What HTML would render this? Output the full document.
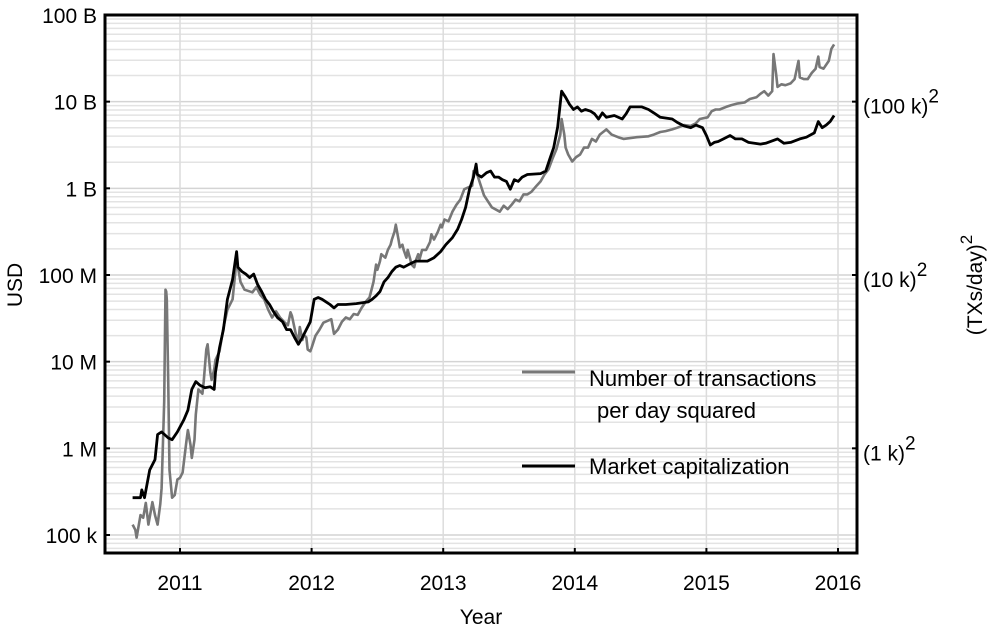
<!DOCTYPE html>
<html><head><meta charset="utf-8"><style>
html,body{margin:0;padding:0;background:#fff;}
svg{display:block;font-family:"Liberation Sans",Arial,sans-serif;}
</style></head><body>
<svg id="chart" width="992" height="635" viewBox="0 0 992 635" xmlns="http://www.w3.org/2000/svg">
<g id="grid"></g>
<g id="series"></g>
<rect x="105" y="15" width="752" height="538" fill="none" stroke="#000" stroke-width="3"/>
<g id="axes"></g>
<text transform="translate(22,285) rotate(-90)" text-anchor="middle" font-size="21">USD</text>
<text transform="translate(982,285) rotate(-90)" text-anchor="middle" font-size="21">(TXs/day)<tspan dy="-10" font-size="17">2</tspan></text>
<text x="481" y="624" text-anchor="middle" font-size="21">Year</text>
<g>
<line x1="522" y1="372" x2="575" y2="372" stroke="#777" stroke-width="3"/>
<text x="589" y="386" font-size="22">Number of transactions</text>
<text x="597" y="418" font-size="22">per day squared</text>
<line x1="522" y1="466" x2="575" y2="466" stroke="#000" stroke-width="3"/>
<text x="589" y="474" font-size="22">Market capitalization</text>
</g>
</svg>
<script>
const yearTicks=[2011,2012,2013,2014,2015,2016];
const leftTickExps=[5,6,7,8,9,10,11];
const leftTickLabels=["100 k","1 M","10 M","100 M","1 B","10 B","100 B"];
const rightTickExps=[6,8,10];
const rightTickLabels=["(1 k)","(10 k)","(100 k)"];
const mcapYears=[2010.64,2010.70,2010.71,2010.73,2010.77,2010.81,2010.83,2010.86,2010.91,2010.94,2010.98,2011.03,2011.06,2011.09,2011.12,2011.15,2011.19,2011.23,2011.26,2011.27,2011.30,2011.33,2011.36,2011.40,2011.43,2011.44,2011.47,2011.50,2011.53,2011.56,2011.59,2011.62,2011.65,2011.68,2011.71,2011.74,2011.78,2011.81,2011.84,2011.87,2011.90,2011.93,2011.96,2011.99,2012.02,2012.05,2012.08,2012.11,2012.14,2012.17,2012.20,2012.26,2012.34,2012.43,2012.46,2012.49,2012.52,2012.55,2012.58,2012.61,2012.64,2012.67,2012.70,2012.75,2012.79,2012.88,2012.93,2012.98,2013.02,2013.07,2013.11,2013.14,2013.17,2013.20,2013.23,2013.25,2013.26,2013.29,2013.33,2013.36,2013.39,2013.42,2013.45,2013.48,2013.51,2013.54,2013.57,2013.60,2013.64,2013.74,2013.78,2013.81,2013.84,2013.87,2013.90,2013.93,2013.96,2013.99,2014.02,2014.05,2014.08,2014.12,2014.15,2014.18,2014.21,2014.24,2014.30,2014.36,2014.39,2014.42,2014.51,2014.56,2014.60,2014.65,2014.74,2014.78,2014.83,2014.88,2014.92,2014.97,2015.00,2015.03,2015.06,2015.09,2015.13,2015.18,2015.22,2015.27,2015.32,2015.41,2015.45,2015.54,2015.59,2015.64,2015.71,2015.76,2015.82,2015.85,2015.88,2015.91,2015.94,2015.97];
const mcapLog10=[5.43,5.43,5.52,5.43,5.75,5.87,6.16,6.19,6.12,6.10,6.19,6.33,6.44,6.68,6.77,6.73,6.70,6.71,6.68,6.88,7.16,7.37,7.72,7.95,8.27,8.09,8.04,8.01,7.97,8.01,7.89,7.81,7.72,7.66,7.58,7.51,7.46,7.37,7.37,7.28,7.20,7.28,7.37,7.46,7.72,7.74,7.72,7.69,7.66,7.62,7.66,7.66,7.67,7.69,7.72,7.76,7.81,7.92,7.97,8.04,8.09,8.11,8.09,8.13,8.16,8.16,8.20,8.27,8.35,8.43,8.53,8.64,8.78,8.99,9.13,9.28,9.16,9.13,9.18,9.20,9.13,9.13,9.10,9.08,8.99,9.10,9.08,9.13,9.16,9.17,9.20,9.34,9.47,9.71,10.12,10.05,9.97,9.91,9.94,9.89,9.91,9.89,9.86,9.80,9.87,9.82,9.84,9.80,9.86,9.94,9.94,9.91,9.87,9.82,9.80,9.76,9.72,9.70,9.73,9.70,9.61,9.50,9.53,9.54,9.57,9.61,9.57,9.57,9.53,9.51,9.52,9.57,9.52,9.53,9.57,9.59,9.64,9.77,9.70,9.73,9.77,9.84];
const txYears=[2010.64,2010.66,2010.67,2010.70,2010.72,2010.74,2010.76,2010.79,2010.81,2010.83,2010.85,2010.86,2010.88,2010.89,2010.895,2010.90,2010.91,2010.92,2010.94,2010.96,2010.98,2011.00,2011.02,2011.05,2011.06,2011.08,2011.09,2011.11,2011.12,2011.14,2011.17,2011.18,2011.20,2011.21,2011.23,2011.24,2011.26,2011.27,2011.30,2011.33,2011.36,2011.40,2011.43,2011.46,2011.49,2011.55,2011.58,2011.61,2011.64,2011.67,2011.70,2011.73,2011.76,2011.79,2011.82,2011.84,2011.85,2011.87,2011.88,2011.90,2011.91,2011.93,2011.94,2011.96,2011.97,2011.99,2012.00,2012.03,2012.06,2012.09,2012.15,2012.17,2012.20,2012.23,2012.26,2012.29,2012.32,2012.35,2012.38,2012.41,2012.44,2012.47,2012.49,2012.50,2012.52,2012.53,2012.56,2012.58,2012.60,2012.61,2012.63,2012.64,2012.66,2012.67,2012.69,2012.70,2012.72,2012.73,2012.75,2012.76,2012.78,2012.79,2012.81,2012.82,2012.84,2012.87,2012.90,2012.91,2012.93,2012.95,2012.96,2012.98,2012.99,2013.01,2013.04,2013.07,2013.10,2013.13,2013.16,2013.19,2013.22,2013.23,2013.25,2013.28,2013.31,2013.34,2013.37,2013.43,2013.46,2013.49,2013.52,2013.55,2013.58,2013.61,2013.64,2013.67,2013.71,2013.74,2013.77,2013.80,2013.83,2013.86,2013.89,2013.90,2013.92,2013.93,2013.95,2013.98,2014.01,2014.04,2014.07,2014.10,2014.13,2014.16,2014.19,2014.24,2014.28,2014.33,2014.37,2014.47,2014.56,2014.60,2014.65,2014.69,2014.74,2014.78,2014.83,2014.88,2014.92,2014.95,2015.01,2015.04,2015.07,2015.10,2015.15,2015.19,2015.24,2015.29,2015.33,2015.38,2015.41,2015.44,2015.47,2015.50,2015.51,2015.53,2015.54,2015.57,2015.60,2015.64,2015.67,2015.70,2015.71,2015.74,2015.77,2015.80,2015.83,2015.85,2015.86,2015.89,2015.93,2015.95,2015.97];
const txLog10=[5.12,5.06,4.97,5.23,5.20,5.37,5.12,5.38,5.23,5.12,5.36,5.54,6.54,7.83,7.81,7.72,6.79,5.75,5.43,5.46,5.64,5.66,5.72,6.10,6.21,6.04,5.89,6.10,6.39,6.68,6.63,6.77,7.14,7.20,6.88,6.79,6.91,7.02,7.12,7.39,7.60,7.72,8.18,7.92,7.83,7.80,7.86,7.77,7.72,7.60,7.51,7.58,7.51,7.46,7.42,7.57,7.53,7.39,7.32,7.23,7.40,7.25,7.31,7.28,7.14,7.12,7.16,7.30,7.37,7.45,7.49,7.32,7.37,7.46,7.51,7.49,7.55,7.54,7.62,7.69,7.74,7.92,8.12,8.06,8.16,8.24,8.20,8.29,8.35,8.41,8.50,8.58,8.41,8.32,8.35,8.29,8.20,8.29,8.18,8.12,8.09,8.16,8.24,8.18,8.29,8.29,8.38,8.47,8.41,8.47,8.50,8.58,8.55,8.64,8.62,8.73,8.81,8.87,8.99,9.01,9.03,9.20,9.20,9.06,8.92,8.85,8.78,8.73,8.80,8.76,8.81,8.87,8.85,8.93,8.93,8.96,9.03,9.08,9.16,9.22,9.34,9.45,9.62,9.80,9.62,9.47,9.39,9.31,9.36,9.39,9.47,9.47,9.57,9.54,9.62,9.68,9.62,9.59,9.57,9.59,9.60,9.62,9.65,9.66,9.68,9.70,9.73,9.72,9.75,9.80,9.82,9.89,9.91,9.91,9.94,9.96,9.98,9.99,10.03,10.05,10.09,10.12,10.07,10.12,10.55,10.32,10.17,10.20,10.19,10.21,10.26,10.47,10.28,10.26,10.26,10.33,10.38,10.52,10.40,10.38,10.47,10.61,10.66];

const NS="http://www.w3.org/2000/svg";
const L=105,R=857,T=15,B=553;
function xs(yr){return 180+(yr-2011)*131.6;}
function ys(e){return 535-(e-5)*86.67;}
function mk(tag,attrs,parent){const el=document.createElementNS(NS,tag);for(const k in attrs)el.setAttribute(k,attrs[k]);parent.appendChild(el);return el;}
const grid=document.getElementById('grid'),axes=document.getElementById('axes'),series=document.getElementById('series');
for(let d=4;d<=11;d++){for(let m=1;m<=9;m++){const e=d+Math.log10(m);const y=ys(e);if(y<T||y>B)continue;
 const ln=mk('line',{x1:L,x2:R,y1:y,y2:y,stroke:m===1?'#d4d4d4':'#e3e3e3','stroke-width':1.5},grid);
 
 }}
yearTicks.forEach(yr=>{const x=xs(yr);
 const ln=mk('line',{x1:x,x2:x,y1:T,y2:B,stroke:'#dcdcdc','stroke-width':1.5},grid);
 
 
 const tk=mk('line',{x1:x,x2:x,y1:B,y2:B-5,stroke:'#000','stroke-width':2},axes);
 
 
 const t=mk('text',{x:x,y:590,'text-anchor':'middle','font-size':21},axes);t.textContent=yr;
 
 });
leftTickExps.forEach((e,i)=>{const y=ys(e);
 const tk=mk('line',{x1:L,x2:L+5,y1:y,y2:y,stroke:'#000','stroke-width':2},axes);
 
 
 const t=mk('text',{x:97,y:y+8,'text-anchor':'end','font-size':21},axes);t.textContent=leftTickLabels[i];
 
 });
rightTickExps.forEach((e,i)=>{const y=ys(e);
 const tk=mk('line',{x1:R,x2:R-5,y1:y,y2:y,stroke:'#000','stroke-width':2},axes);
 
 
 const t=mk('text',{x:863,y:y+12,'font-size':21},axes);t.textContent=rightTickLabels[i];
 const s=mk('tspan',{dy:-11,'font-size':19},t);s.textContent='2';
 
 });
function path(xa,ya){return xa.map((v,i)=>(i?'L':'M')+xs(v).toFixed(1)+','+ys(ya[i]).toFixed(1)).join('');}
const g1=mk('path',{d:path(txYears,txLog10),fill:'none',stroke:'#777','stroke-width':2.6,'stroke-linejoin':'round'},series);


const g2=mk('path',{d:path(mcapYears,mcapLog10),fill:'none',stroke:'#000','stroke-width':2.8,'stroke-linejoin':'round'},series);


</script>
</body></html>
